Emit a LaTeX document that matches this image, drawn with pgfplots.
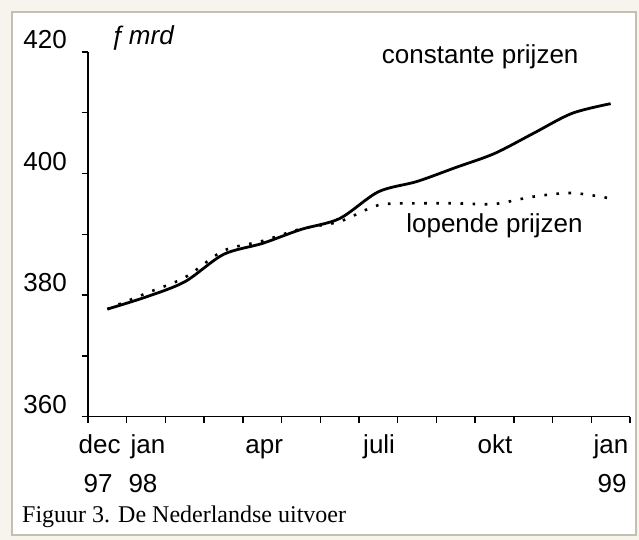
\documentclass[border=0pt]{standalone}
\usepackage{pgfplots}
\pgfplotsset{compat=1.18}
\usepackage{fontspec}
\setmainfont{Liberation Serif}
\newfontfamily\arialf{Liberation Sans}
\definecolor{bgout}{RGB}{246,244,236}
\definecolor{frameline}{RGB}{196,192,176}
\begin{document}
\begin{tikzpicture}[x=1bp,y=1bp]
\useasboundingbox (0,0) rectangle (639,540);
\fill[bgout] (0,0) rectangle (639,540);
\draw[frameline, line width=1.5bp, fill=white] (12,5) rectangle (636,528);
\begin{axis}[
  at={(88bp,123.3bp)}, anchor=south west,
  scale only axis, width=542bp, height=364.7bp,
  xmin=0, xmax=14, ymin=360, ymax=420,
  axis lines=left,
  axis line style={-, line width=1.4bp, black},
  tick align=outside, major tick length=6.5bp,
  tick style={line width=1.4bp, black},
  xtick={0,1,...,14}, ytick={360,370,...,420},
  xticklabels={}, yticklabels={},
  clip=false,
]
\addplot[black, line width=2.8bp, smooth, tension=0.5] coordinates {
 (0.5,377.7) (1.5,379.7) (2.5,382.2) (3.5,386.7) (4.5,388.5) (5.5,390.8)
 (6.5,392.6) (7.5,397.0) (8.5,398.7) (9.5,401.0) (10.5,403.3) (11.5,406.6)
 (12.5,409.9) (13.5,411.5)
};
\addplot[black, line width=2.6bp, dash pattern=on 2.6bp off 9.5bp, smooth, tension=0.5] coordinates {
 (0.5,377.7) (1.5,380.3) (2.5,382.9) (3.5,387.3) (4.5,388.9) (5.5,390.9)
 (6.5,392.1) (7.5,394.8) (8.5,395.1) (9.5,395.1) (10.5,395.0) (11.5,396.2)
 (12.5,396.8) (13.5,395.9)
};
\begin{scope}[every node/.style={anchor=base, inner sep=0pt, font=\arialf\fontsize{26bp}{28bp}\selectfont}]
% y tick labels
\node[anchor=base east] at ([xshift=-21bp,yshift=3.5bp]axis cs:0,420) {420};
\node[anchor=base east] at ([xshift=-21bp,yshift=3.5bp]axis cs:0,400) {400};
\node[anchor=base east] at ([xshift=-21bp,yshift=3.5bp]axis cs:0,380) {380};
\node[anchor=base east] at ([xshift=-21bp,yshift=3.5bp]axis cs:0,360) {360};
% x tick labels (months)
\node at (axis cs:0.30,354.0) {dec};
\node at (axis cs:1.55,354.0) {jan};
\node at (axis cs:4.55,354.0) {apr};
\node at (axis cs:7.52,354.0) {juli};
\node at (axis cs:10.51,354.0) {okt};
\node at (axis cs:13.51,354.0) {jan};
\node at (axis cs:0.26,347.45) {97};
\node at (axis cs:1.42,347.45) {98};
\node at (axis cs:13.54,347.45) {99};
\node at (axis cs:10.13,418.1) {constante prijzen};
\node at (axis cs:10.50,390.3) {lopende prijzen};
\end{scope}
\end{axis}
\node[anchor=base west, inner sep=0pt, font=\arialf\itshape\fontsize{26bp}{28bp}\selectfont] at (110,495) {ƒ\,mrd};
\node[anchor=base west, inner sep=0pt, font=\fontsize{24bp}{26bp}\selectfont] at (22,17) {Figuur 3. De Nederlandse uitvoer};
\end{tikzpicture}
\end{document}
